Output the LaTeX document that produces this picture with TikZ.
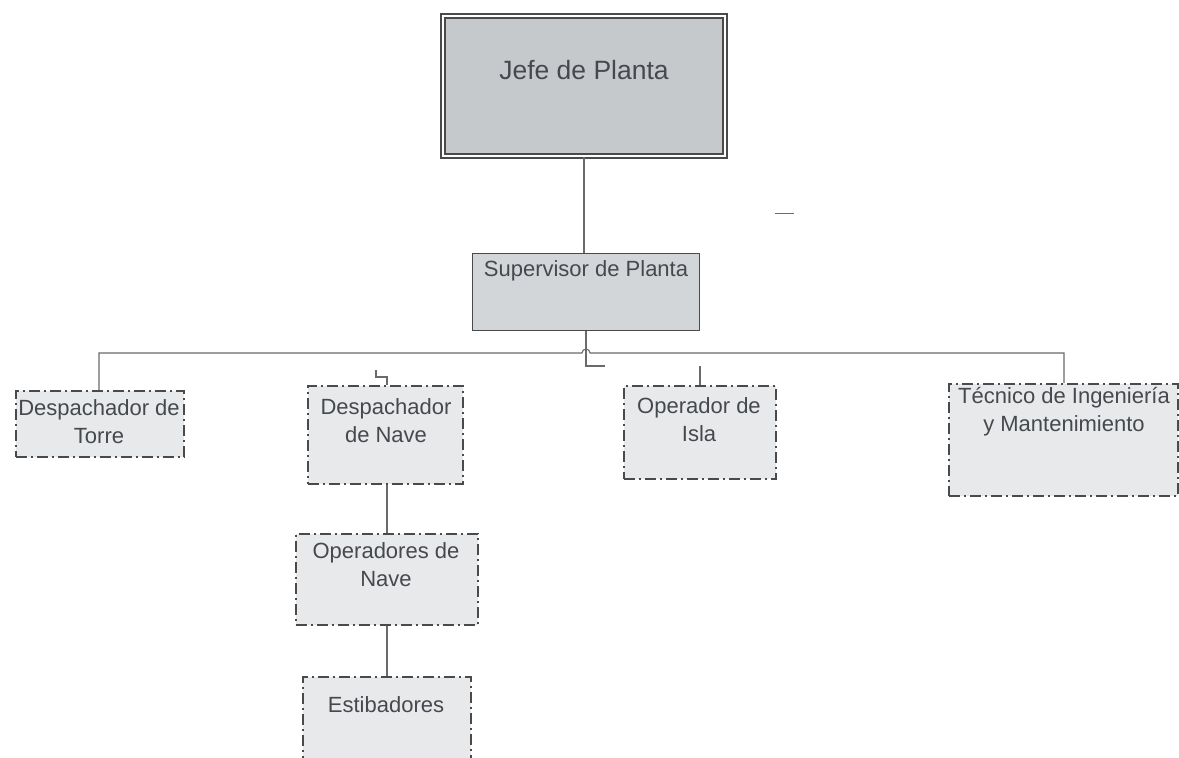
\documentclass[tikz,border=0pt]{standalone}
\usepackage{fontspec}
\setmainfont{Liberation Sans}
\definecolor{linec}{HTML}{4A4A4A}
\definecolor{linkc}{HTML}{6A6A6A}
\definecolor{textc}{HTML}{45494E}
\definecolor{boxfill}{HTML}{E8E9EA}
\definecolor{supfill}{HTML}{D3D6D9}
\definecolor{jefefill}{HTML}{C6C9CC}
\tikzset{
  pbox/.style={draw=linec, line width=1.5pt, dash pattern=on 11pt off 4pt on 2pt off 4pt,
    fill=boxfill, inner sep=0pt, anchor=north west},
  % anchor=base sits on the baseline of the last line
  txt/.style={font=\fontsize{22}{27.5}\selectfont, text=textc, align=center, inner sep=0pt, anchor=base},
  link/.style={draw=linkc, line width=1.1pt},
}
\begin{document}
\begin{tikzpicture}[x=1pt,y=-1pt]
\useasboundingbox (0,0) rectangle (1179,758);
\clip (0,0) rectangle (1179,758);
\fill[white] (0,0) rectangle (1179,758);

% top level
\node[draw=linec, line width=1.3pt, double=white, double distance=2.6pt, fill=jefefill,
  minimum width=282pt, minimum height=140pt, inner sep=0pt] (jefe) at (584,86) {};
\node[txt, font=\fontsize{26.5}{30}\selectfont] (jefet) at (584,79) {Jefe de Planta};

\node[draw=linec, line width=1.4pt, fill=supfill, minimum width=227pt, minimum height=77pt,
  inner sep=0pt, anchor=north west] (sup) at (472,253) {};
\node[txt] (supt) at (586,276) {Supervisor de Planta};

% second level
\node[pbox, minimum width=168pt, minimum height=66pt] (torre) at (15,390) {};
\node[txt] (torret) at (99,443) {Despachador de\\Torre};

\node[pbox, minimum width=155pt, minimum height=98pt] (nave) at (307,385) {};
\node[txt] (navet) at (386,442) {Despachador\\de Nave};

\node[pbox, minimum width=152pt, minimum height=93pt] (isla) at (623,385) {};
\node[txt] (islat) at (699,441) {Operador de\\Isla};

\node[pbox, minimum width=229pt, minimum height=112pt] (tec) at (948,383) {};
\node[txt] (tect) at (1064,431) {Técnico de Ingeniería\\y Mantenimiento};

% third and fourth level
\node[pbox, minimum width=182pt, minimum height=91pt] (opn) at (295,533) {};
\node[txt] (opnt) at (386,586) {Operadores de\\Nave};

\node[pbox, minimum width=168pt, minimum height=110pt] (est) at (302,676) {};
\node[txt] (estt) at (386,712) {Estibadores};

% connectors
\coordinate (busL) at (99,353);
\coordinate (busR) at (1064,353);
\coordinate (hopL) at (582,353);
\coordinate (supTurn) at (586,366);
\coordinate (supEnd) at (605,366);
\coordinate (navA) at (376,370);
\coordinate (navB) at (376,377);
\coordinate (navC) at (387,377);
\coordinate (islaTop) at (700,366);

\draw[link] (jefe.south) -- (jefe.south |- sup.north);
\draw[link] (torre.north -| busL) -- (busL) -- (hopL)
  arc[start angle=180, end angle=0, radius=4pt] -- (busR) -- (tec.north -| busR);
\draw[link] (sup.south -| supTurn) -- (supTurn) -- (supEnd);
\draw[link] (navA) -- (navB) -- (navC) -- (navC |- nave.north);
\draw[link] (islaTop) -- (islaTop |- isla.north);
\draw[link] (nave.south -| navC) -- (navC |- opn.north);
\draw[link] (opn.south -| navC) -- (navC |- est.north);

% loose stroke
\coordinate (markA) at (775,213);
\coordinate (markB) at (794,213);
\draw[link, line width=1pt] (markA) -- (markB);
\end{tikzpicture}
\end{document}
